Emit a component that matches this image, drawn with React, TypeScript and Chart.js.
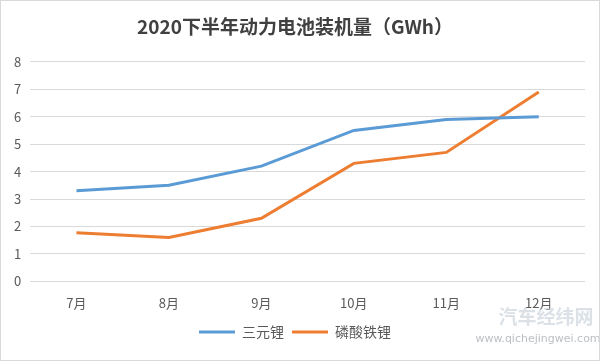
import React, { useEffect, useRef } from "react";
import { Chart, registerables } from "chart.js";

Chart.register(...registerables);

const months = ["7月", "8月", "9月", "10月", "11月", "12月"];
const ternary = [3.3, 3.5, 4.2, 5.5, 5.9, 6.0];
const lfp = [1.77, 1.6, 2.3, 4.3, 4.7, 6.9];
const seriesNames = ["三元锂", "磷酸铁锂"];
const titleText = "2020下半年动力电池装机量（GWh）";

const cjk = '"Noto Sans CJK SC", "Noto Sans", sans-serif';

const watermark = {
  id: "watermark",
  afterDraw(chart: any) {
    const ctx = chart.ctx;
    ctx.save();
    ctx.fillStyle = "rgba(190,200,210,0.55)";
    ctx.font = 'bold 19px ' + cjk;
    ctx.textAlign = "center";
    ctx.textBaseline = "middle";
    ctx.fillText("汽车经纬网", 545, 316);
    ctx.font = '11px "DejaVu Sans", sans-serif';
    ctx.fillStyle = "rgba(170,175,180,0.8)";
    ctx.fillText("www.qichejingwei.com", 537, 338);
    ctx.restore();
  },
};

export default function App() {
  const ref = useRef<HTMLCanvasElement>(null);
  useEffect(() => {
    const chart = new Chart(ref.current!, {
      type: "line",
      data: {
        labels: months,
        datasets: [
          {
            label: seriesNames[0],
            data: ternary,
            borderColor: "#5b9bd5",
            backgroundColor: "#5b9bd5",
            borderWidth: 3,
            pointRadius: 0,
            tension: 0,
          },
          {
            label: seriesNames[1],
            data: lfp,
            borderColor: "#ed7d31",
            backgroundColor: "#ed7d31",
            borderWidth: 3,
            pointRadius: 0,
            tension: 0,
          },
        ],
      },
      options: {
        animation: false,
        responsive: false,
        maintainAspectRatio: false,
        layout: { padding: { left: 4, right: 14, top: 10, bottom: 11 } },
        plugins: {
          title: {
            display: true,
            text: titleText,
            color: "#404040",
            font: { family: cjk, size: 19, weight: "bold" },
            padding: { top: 4, bottom: 24 },
          },
          legend: {
            position: "bottom",
            labels: {
              usePointStyle: true,
              pointStyle: "line",
              pointStyleWidth: 36,
              color: "#595959",
              font: { family: cjk, size: 14 },
              padding: 8,
            },
          },
          tooltip: { enabled: false },
        },
        scales: {
          x: {
            offset: true,
            grid: { display: false },
            border: { display: false },
            ticks: { color: "#595959", font: { family: cjk, size: 13 }, padding: 6 },
          },
          y: {
            min: 0,
            max: 8,
            ticks: { stepSize: 1, color: "#595959", font: { family: cjk, size: 13 }, padding: 9 },
            grid: { color: "#d9d9d9", drawTicks: false },
            border: { display: false },
          },
        },
      },
      plugins: [watermark],
    });
    return () => chart.destroy();
  }, []);
  return (
    <div style={{ position: "fixed", left: 0, top: 0, width: 600, height: 361, background: "#fff", boxSizing: "border-box", border: "1px solid #d9d9d9" }}>
      <canvas ref={ref} width={598} height={359} style={{ display: "block" }} />
    </div>
  );
}
